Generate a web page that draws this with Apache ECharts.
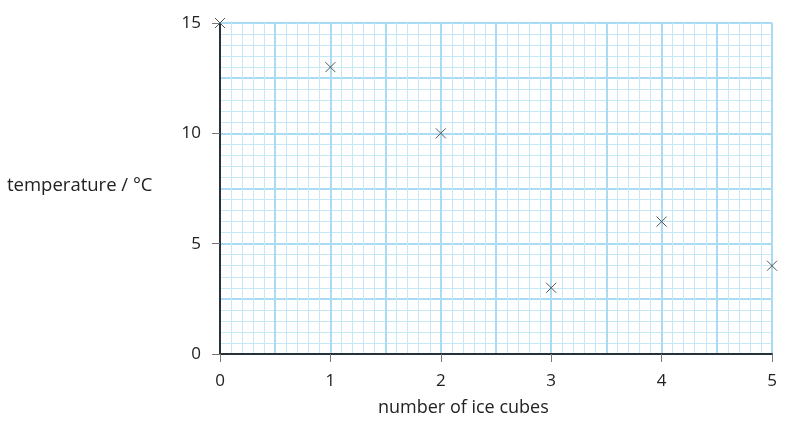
<!DOCTYPE html>
<html><head><meta charset="utf-8">
<script src="https://cdn.jsdelivr.net/npm/echarts@6/dist/echarts.min.js"></script>
<style>html,body{margin:0;padding:0;background:#fff}#c{width:792px;height:425px}</style>
</head><body><div id="c"></div>
<script>
const iceCubes = [0, 1, 2, 3, 4, 5];
const temperature = [15, 13, 10, 3, 6, 4];
const xName = 'number of ice cubes';
const yName = 'temperature / °C';

const chart = echarts.init(document.getElementById('c'));
const font = '"Open Sans", sans-serif';
const major = {show: true, lineStyle: {color: '#a9dcf2', width: 2}};
const minor = {show: true, lineStyle: {color: '#c4e8f6', width: 1}};
chart.setOption({
  grid: {left: 220, right: 20, top: 23, bottom: 71},
  xAxis: [
    {type: 'value', min: 0, max: 5, interval: 0.5, axisLine: {show: false}, axisTick: {show: false}, axisLabel: {show: false},
     splitLine: major, minorTick: {show: false, splitNumber: 5}, minorSplitLine: minor},
    {type: 'value', min: 0, max: 5, interval: 1, position: 'bottom',
     axisLine: {show: true, onZero: false, lineStyle: {color: '#26313a', width: 2}},
     axisTick: {show: true, length: 8, lineStyle: {color: '#777', width: 1}},
     axisLabel: {margin: 19, color: '#222', fontSize: 17, fontFamily: font},
     splitLine: {show: false}}
  ],
  yAxis: [
    {type: 'value', min: 0, max: 15, interval: 2.5, axisLine: {show: false}, axisTick: {show: false}, axisLabel: {show: false},
     splitLine: major, minorTick: {show: false, splitNumber: 5}, minorSplitLine: minor},
    {type: 'value', min: 0, max: 15, interval: 5, position: 'left',
     axisLine: {show: true, onZero: false, lineStyle: {color: '#26313a', width: 2}},
     axisTick: {show: true, length: 8, lineStyle: {color: '#777', width: 1}},
     axisLabel: {margin: 19, color: '#222', fontSize: 17, fontFamily: font},
     splitLine: {show: false}}
  ],
  graphic: [
    {type: 'text', left: 378, top: 399, style: {text: xName, fill: '#222', font: '18px "Open Sans", sans-serif'}},
    {type: 'text', left: 7, top: 176, style: {text: yName, fill: '#222', font: '18.5px "Open Sans", sans-serif'}}
  ],
  series: [{
    type: 'scatter', xAxisIndex: 1, yAxisIndex: 1, clip: false,
    data: iceCubes.map((x, i) => [x, temperature[i]]),
    symbol: 'path://M0,0L10,10M10,0L0,10', symbolSize: 10,
    itemStyle: {color: 'none', borderColor: '#555', borderWidth: 1, opacity: 1}
  }]
});
</script></body></html>
